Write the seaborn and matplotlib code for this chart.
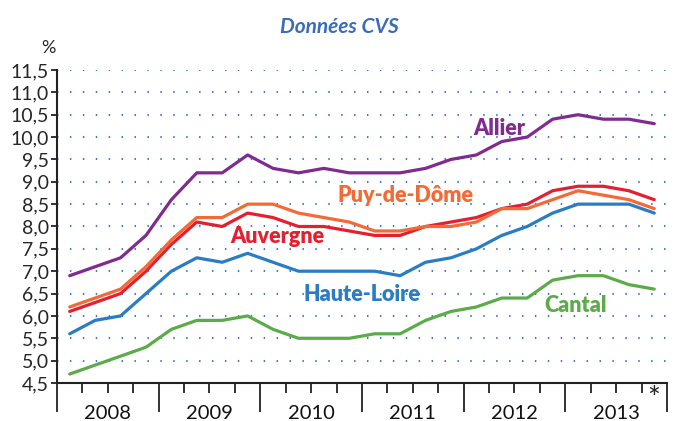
import pandas as pd
import numpy as np
import matplotlib
matplotlib.use("Agg")
import matplotlib.pyplot as plt
import matplotlib.transforms as mtransforms
import seaborn as sns

# quarterly unemployment rates, 2008 Q1 -> 2013 Q4
years = ["2008", "2009", "2010", "2011", "2012", "2013"]
quarter = list(range(24))

allier = [6.9, 7.1, 7.3, 7.8, 8.6, 9.2, 9.2, 9.6, 9.3, 9.2, 9.3, 9.2,
          9.2, 9.2, 9.3, 9.5, 9.6, 9.9, 10.0, 10.4, 10.5, 10.4, 10.4, 10.3]
puy_de_dome = [6.2, 6.4, 6.6, 7.1, 7.7, 8.2, 8.2, 8.5, 8.5, 8.3, 8.2, 8.1,
               7.9, 7.9, 8.0, 8.0, 8.1, 8.4, 8.4, 8.6, 8.8, 8.7, 8.6, 8.4]
auvergne = [6.1, 6.3, 6.5, 7.0, 7.6, 8.1, 8.0, 8.3, 8.2, 8.0, 8.0, 7.9,
            7.8, 7.8, 8.0, 8.1, 8.2, 8.4, 8.5, 8.8, 8.9, 8.9, 8.8, 8.6]
haute_loire = [5.6, 5.9, 6.0, 6.5, 7.0, 7.3, 7.2, 7.4, 7.2, 7.0, 7.0, 7.0,
               7.0, 6.9, 7.2, 7.3, 7.5, 7.8, 8.0, 8.3, 8.5, 8.5, 8.5, 8.3]
cantal = [4.7, 4.9, 5.1, 5.3, 5.7, 5.9, 5.9, 6.0, 5.7, 5.5, 5.5, 5.5,
          5.6, 5.6, 5.9, 6.1, 6.2, 6.4, 6.4, 6.8, 6.9, 6.9, 6.7, 6.6]

series = {"Cantal": cantal, "Haute-Loire": haute_loire, "Auvergne": auvergne,
          "Puy-de-Dôme": puy_de_dome, "Allier": allier}
colors = {"Allier": "#7f2b8f", "Puy-de-Dôme": "#f26a35", "Auvergne": "#e2202f",
          "Haute-Loire": "#2a7cc4", "Cantal": "#5cab4b"}

df = pd.concat([pd.DataFrame({"q": quarter, "taux": v, "zone": k})
                for k, v in series.items()])

sns.set_theme(style="white")
plt.rcParams["font.family"] = ["Lato", "DejaVu Sans"]

fig = plt.figure(figsize=(6.77, 4.21), dpi=100)
ax = fig.add_axes([0.0842, 0.0903, 0.901, 0.7434])

sns.lineplot(data=df, x="q", y="taux", hue="zone", hue_order=list(series.keys()),
             palette=colors, linewidth=2.3, legend=False, ax=ax)

ax.set_xlim(-0.5, 23.5)
ax.set_ylim(4.5, 11.5)
yt = np.arange(4.5, 11.51, 0.5)
ax.set_yticks(yt)
ax.set_yticklabels([f"{v:.1f}".replace(".", ",") for v in yt], fontsize=14)
ax.yaxis.grid(True, color="#3c7bcc", linestyle=(0, (0.7, 5.5)), linewidth=1.5)
ax.set_axisbelow(True)

ax.set_xticks(np.arange(-0.5, 24, 4))
ax.set_xticks(np.arange(-0.5, 24, 1), minor=True)
ax.set_xticklabels([])
ax.tick_params(axis="x", which="major", direction="out", length=21, width=1.3,
               color="#222222", bottom=True)
ax.tick_params(axis="x", which="minor", direction="out", length=7, width=1.3,
               color="#222222", bottom=True)
ax.tick_params(axis="y", direction="out", length=4, width=1.3, color="#222222",
               left=True, pad=2)
ax.set_xlabel("")
ax.set_ylabel("")

for s in ["top", "right"]:
    ax.spines[s].set_visible(False)
for s in ["left", "bottom"]:
    ax.spines[s].set_color("#222222")
    ax.spines[s].set_linewidth(1.5)

trans = mtransforms.blended_transform_factory(ax.transData, ax.transAxes)
for i, y in enumerate(years):
    ax.text(1.5 + 4 * i, -0.116, y, transform=trans, ha="center", va="baseline",
            fontsize=14.5, color="#111111")

# series labels
labels = [("Allier", 16.9, 10.2), ("Puy-de-Dôme", 13.2, 8.7),
          ("Auvergne", 8.15, 7.77), ("Haute-Loire", 11.5, 6.49),
          ("Cantal", 19.9, 6.24)]
for name, x, y in labels:
    ax.text(x, y, name, color=colors[name], fontsize=15.5, fontweight="heavy",
            ha="center", va="center")

fig.text(0.502, 0.936, "Données CVS", ha="center", va="center", fontsize=15,
         fontweight="bold", style="italic", color="#3a6cb8")
fig.text(0.072, 0.886, "%", ha="center", va="center", fontsize=13)
fig.text(0.965, 0.052, "*", ha="center", va="center", fontsize=22)

fig.savefig("out.png", dpi=100)
